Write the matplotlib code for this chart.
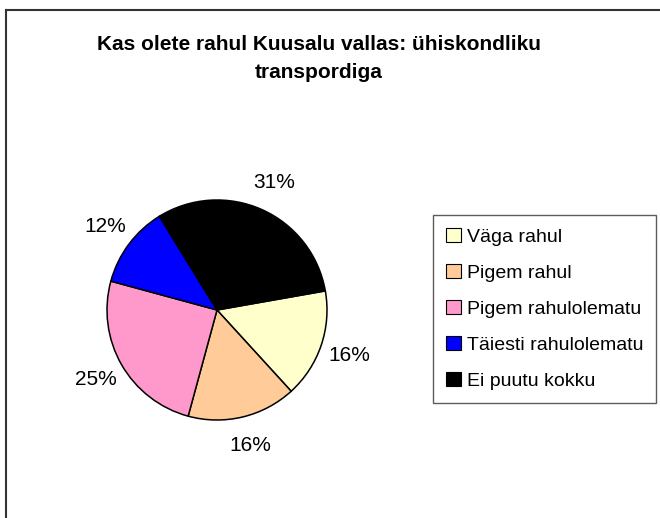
import matplotlib
matplotlib.use("Agg")
import matplotlib.pyplot as plt
from matplotlib.patches import Patch
from matplotlib.lines import Line2D

categories = ["Väga rahul", "Pigem rahul", "Pigem rahulolematu", "Täiesti rahulolematu", "Ei puutu kokku"]
values = [16, 16, 25, 12, 31]
colors = ["#FFFFCC", "#FFCC99", "#FF99CC", "#0000FF", "#000000"]
title = "Kas olete rahul Kuusalu vallas: ühiskondliku\ntranspordiga"

plt.rcParams['font.family'] = ['Liberation Sans', 'DejaVu Sans']

W, H = 660, 518
fig = plt.figure(figsize=(W/100, H/100), dpi=100)
fig.patch.set_facecolor("white")

# chart border (top and left visible)
fig.add_artist(Line2D([6/W, 6/W], [0, 1 - 10/H], transform=fig.transFigure, color="#333333", lw=1.5))
fig.add_artist(Line2D([6/W, 1], [1 - 10/H, 1 - 10/H], transform=fig.transFigure, color="#333333", lw=1.5))

cx, cy, r = 217, 310, 110
ax = fig.add_axes([(cx - r)/W, (H - cy - r)/H, 2*r/W, 2*r/H])
wedges, texts, autotexts = ax.pie(
    values, colors=colors, startangle=10, counterclock=False,
    autopct=lambda p: f"{p:.0f}%", pctdistance=1.27,
    wedgeprops=dict(edgecolor="black", linewidth=1.1),
    textprops=dict(fontsize=15, color="black"))
ax.set_aspect("equal")
ax.set_xlim(-1, 1)
ax.set_ylim(-1, 1)
ax.axis("off")

fig.text(319/W, 1 - 58.5/H, title, ha="center", va="center", fontsize=15,
         fontweight="bold", linespacing=1.55)

handles = [Patch(facecolor=c, edgecolor="black", linewidth=0.8) for c in colors]
leg = fig.legend(handles, categories, loc="upper left",
                 bbox_to_anchor=(433/W, 1 - 215/H), borderaxespad=0,
                 fontsize=14.0, frameon=True, fancybox=False, shadow=False,
                 handlelength=0.75, handleheight=0.75, handletextpad=0.3,
                 labelspacing=0.93, borderpad=0.68)
leg.get_frame().set_edgecolor("#333333")
leg.get_frame().set_linewidth(1.0)

fig.savefig("out.png", dpi=100, facecolor="white")
